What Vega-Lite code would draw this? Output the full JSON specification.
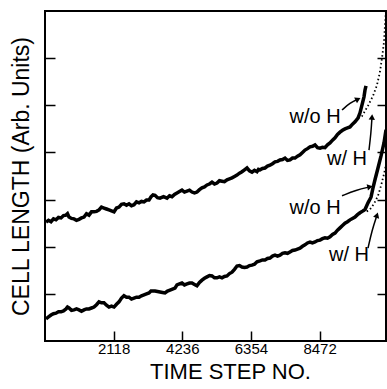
{
  "$schema": "https://vega.github.io/schema/vega-lite/v6.json",
  "width": 341,
  "height": 330,
  "autosize": {"type": "none"},
  "padding": {"left": 45, "top": 11, "right": 1, "bottom": 48},
  "background": "white",
  "config": {
    "view": {"stroke": "black", "strokeWidth": 2},
    "font": "Liberation Sans",
    "axis": {"grid": false, "domain": false, "tickColor": "black", "tickWidth": 1.5, "labelColor": "black", "titleColor": "black", "titleFontWeight": "normal"}
  },
  "datasets": {
    "curves": [
      {"s":"A","t":31,"v":2.52},{"s":"A","t":108,"v":2.56},{"s":"A","t":185,"v":2.53},{"s":"A","t":262,"v":2.59},{"s":"A","t":339,"v":2.57},{"s":"A","t":416,"v":2.62},{"s":"A","t":494,"v":2.61},{"s":"A","t":571,"v":2.66},{"s":"A","t":648,"v":2.67},{"s":"A","t":694,"v":2.70},{"s":"A","t":740,"v":2.63},{"s":"A","t":818,"v":2.60},{"s":"A","t":895,"v":2.59},{"s":"A","t":972,"v":2.56},{"s":"A","t":1049,"v":2.58},{"s":"A","t":1126,"v":2.61},{"s":"A","t":1203,"v":2.63},{"s":"A","t":1280,"v":2.70},{"s":"A","t":1357,"v":2.67},{"s":"A","t":1434,"v":2.74},{"s":"A","t":1512,"v":2.74},{"s":"A","t":1589,"v":2.75},{"s":"A","t":1666,"v":2.78},{"s":"A","t":1743,"v":2.84},{"s":"A","t":1820,"v":2.82},{"s":"A","t":1897,"v":2.80},{"s":"A","t":1974,"v":2.78},{"s":"A","t":2051,"v":2.76},{"s":"A","t":2129,"v":2.74},{"s":"A","t":2206,"v":2.82},{"s":"A","t":2283,"v":2.84},{"s":"A","t":2360,"v":2.90},{"s":"A","t":2437,"v":2.91},{"s":"A","t":2514,"v":2.88},{"s":"A","t":2591,"v":2.91},{"s":"A","t":2668,"v":2.87},{"s":"A","t":2746,"v":2.89},{"s":"A","t":2823,"v":2.95},{"s":"A","t":2900,"v":2.93},{"s":"A","t":2977,"v":2.96},{"s":"A","t":3054,"v":2.95},{"s":"A","t":3131,"v":2.99},{"s":"A","t":3208,"v":2.99},{"s":"A","t":3270,"v":3.06},{"s":"A","t":3332,"v":3.10},{"s":"A","t":3394,"v":3.09},{"s":"A","t":3471,"v":3.04},{"s":"A","t":3548,"v":3.03},{"s":"A","t":3656,"v":3.06},{"s":"A","t":3764,"v":3.03},{"s":"A","t":3841,"v":3.08},{"s":"A","t":3918,"v":3.06},{"s":"A","t":3995,"v":3.11},{"s":"A","t":4072,"v":3.14},{"s":"A","t":4149,"v":3.17},{"s":"A","t":4226,"v":3.20},{"s":"A","t":4303,"v":3.16},{"s":"A","t":4381,"v":3.18},{"s":"A","t":4458,"v":3.20},{"s":"A","t":4535,"v":3.16},{"s":"A","t":4612,"v":3.14},{"s":"A","t":4689,"v":3.16},{"s":"A","t":4766,"v":3.21},{"s":"A","t":4843,"v":3.25},{"s":"A","t":4920,"v":3.27},{"s":"A","t":4998,"v":3.31},{"s":"A","t":5075,"v":3.33},{"s":"A","t":5152,"v":3.37},{"s":"A","t":5229,"v":3.33},{"s":"A","t":5306,"v":3.35},{"s":"A","t":5383,"v":3.40},{"s":"A","t":5460,"v":3.39},{"s":"A","t":5537,"v":3.38},{"s":"A","t":5615,"v":3.42},{"s":"A","t":5692,"v":3.44},{"s":"A","t":5769,"v":3.46},{"s":"A","t":5846,"v":3.49},{"s":"A","t":5923,"v":3.52},{"s":"A","t":6000,"v":3.56},{"s":"A","t":6077,"v":3.59},{"s":"A","t":6155,"v":3.63},{"s":"A","t":6232,"v":3.67},{"s":"A","t":6309,"v":3.61},{"s":"A","t":6386,"v":3.58},{"s":"A","t":6463,"v":3.62},{"s":"A","t":6540,"v":3.59},{"s":"A","t":6587,"v":3.64},{"s":"A","t":6633,"v":3.63},{"s":"A","t":6710,"v":3.66},{"s":"A","t":6787,"v":3.67},{"s":"A","t":6864,"v":3.71},{"s":"A","t":6941,"v":3.73},{"s":"A","t":7018,"v":3.76},{"s":"A","t":7096,"v":3.80},{"s":"A","t":7173,"v":3.81},{"s":"A","t":7250,"v":3.84},{"s":"A","t":7327,"v":3.85},{"s":"A","t":7404,"v":3.88},{"s":"A","t":7481,"v":3.83},{"s":"A","t":7558,"v":3.84},{"s":"A","t":7635,"v":3.88},{"s":"A","t":7713,"v":3.88},{"s":"A","t":7790,"v":3.92},{"s":"A","t":7867,"v":3.95},{"s":"A","t":7944,"v":4.00},{"s":"A","t":8021,"v":4.05},{"s":"A","t":8098,"v":4.08},{"s":"A","t":8175,"v":4.12},{"s":"A","t":8252,"v":4.13},{"s":"A","t":8330,"v":4.16},{"s":"A","t":8407,"v":4.10},{"s":"A","t":8484,"v":4.09},{"s":"A","t":8561,"v":4.11},{"s":"A","t":8638,"v":4.10},{"s":"A","t":8715,"v":4.16},{"s":"A","t":8792,"v":4.20},{"s":"A","t":8870,"v":4.26},{"s":"A","t":8947,"v":4.31},{"s":"A","t":9024,"v":4.38},{"s":"A","t":9101,"v":4.43},{"s":"A","t":9178,"v":4.47},{"s":"A","t":9255,"v":4.50},{"s":"A","t":9332,"v":4.52},{"s":"A","t":9409,"v":4.54},{"s":"A","t":9486,"v":4.60},{"s":"A","t":9564,"v":4.65},{"s":"A","t":9656,"v":4.73},{"s":"A","t":9718,"v":4.84},{"s":"A","t":9780,"v":5.01},{"s":"A","t":9841,"v":5.18},{"s":"A","t":9872,"v":5.32},{"s":"A","t":9903,"v":5.41},
      {"s":"B","t":31,"v":0.47},{"s":"B","t":108,"v":0.51},{"s":"B","t":185,"v":0.55},{"s":"B","t":262,"v":0.58},{"s":"B","t":339,"v":0.59},{"s":"B","t":416,"v":0.62},{"s":"B","t":494,"v":0.62},{"s":"B","t":571,"v":0.64},{"s":"B","t":648,"v":0.68},{"s":"B","t":694,"v":0.72},{"s":"B","t":740,"v":0.70},{"s":"B","t":818,"v":0.65},{"s":"B","t":895,"v":0.66},{"s":"B","t":972,"v":0.68},{"s":"B","t":1049,"v":0.66},{"s":"B","t":1126,"v":0.63},{"s":"B","t":1203,"v":0.66},{"s":"B","t":1280,"v":0.68},{"s":"B","t":1357,"v":0.68},{"s":"B","t":1434,"v":0.70},{"s":"B","t":1512,"v":0.72},{"s":"B","t":1589,"v":0.77},{"s":"B","t":1666,"v":0.83},{"s":"B","t":1743,"v":0.81},{"s":"B","t":1820,"v":0.81},{"s":"B","t":1897,"v":0.76},{"s":"B","t":1974,"v":0.72},{"s":"B","t":2051,"v":0.74},{"s":"B","t":2129,"v":0.72},{"s":"B","t":2206,"v":0.78},{"s":"B","t":2283,"v":0.83},{"s":"B","t":2360,"v":0.91},{"s":"B","t":2437,"v":0.96},{"s":"B","t":2514,"v":0.93},{"s":"B","t":2591,"v":0.93},{"s":"B","t":2668,"v":0.89},{"s":"B","t":2746,"v":0.91},{"s":"B","t":2823,"v":0.93},{"s":"B","t":2900,"v":0.93},{"s":"B","t":2977,"v":0.96},{"s":"B","t":3054,"v":0.98},{"s":"B","t":3131,"v":1.00},{"s":"B","t":3208,"v":1.02},{"s":"B","t":3270,"v":1.06},{"s":"B","t":3332,"v":1.06},{"s":"B","t":3394,"v":1.06},{"s":"B","t":3471,"v":1.05},{"s":"B","t":3548,"v":1.04},{"s":"B","t":3625,"v":1.03},{"s":"B","t":3702,"v":1.02},{"s":"B","t":3779,"v":1.06},{"s":"B","t":3856,"v":1.08},{"s":"B","t":3933,"v":1.10},{"s":"B","t":4010,"v":1.12},{"s":"B","t":4072,"v":1.19},{"s":"B","t":4149,"v":1.21},{"s":"B","t":4226,"v":1.23},{"s":"B","t":4303,"v":1.19},{"s":"B","t":4381,"v":1.21},{"s":"B","t":4458,"v":1.23},{"s":"B","t":4535,"v":1.23},{"s":"B","t":4612,"v":1.20},{"s":"B","t":4689,"v":1.17},{"s":"B","t":4766,"v":1.24},{"s":"B","t":4843,"v":1.29},{"s":"B","t":4920,"v":1.33},{"s":"B","t":4998,"v":1.36},{"s":"B","t":5075,"v":1.39},{"s":"B","t":5152,"v":1.38},{"s":"B","t":5229,"v":1.34},{"s":"B","t":5306,"v":1.34},{"s":"B","t":5383,"v":1.36},{"s":"B","t":5460,"v":1.34},{"s":"B","t":5537,"v":1.37},{"s":"B","t":5615,"v":1.38},{"s":"B","t":5692,"v":1.43},{"s":"B","t":5769,"v":1.46},{"s":"B","t":5846,"v":1.52},{"s":"B","t":5923,"v":1.59},{"s":"B","t":6000,"v":1.60},{"s":"B","t":6077,"v":1.57},{"s":"B","t":6155,"v":1.56},{"s":"B","t":6232,"v":1.57},{"s":"B","t":6309,"v":1.60},{"s":"B","t":6386,"v":1.61},{"s":"B","t":6463,"v":1.63},{"s":"B","t":6540,"v":1.68},{"s":"B","t":6633,"v":1.70},{"s":"B","t":6710,"v":1.72},{"s":"B","t":6787,"v":1.72},{"s":"B","t":6864,"v":1.75},{"s":"B","t":6941,"v":1.76},{"s":"B","t":7018,"v":1.80},{"s":"B","t":7096,"v":1.82},{"s":"B","t":7173,"v":1.80},{"s":"B","t":7250,"v":1.82},{"s":"B","t":7327,"v":1.86},{"s":"B","t":7404,"v":1.87},{"s":"B","t":7481,"v":1.86},{"s":"B","t":7558,"v":1.89},{"s":"B","t":7635,"v":1.92},{"s":"B","t":7713,"v":1.93},{"s":"B","t":7790,"v":1.95},{"s":"B","t":7867,"v":1.97},{"s":"B","t":7944,"v":2.01},{"s":"B","t":8021,"v":2.04},{"s":"B","t":8098,"v":2.08},{"s":"B","t":8175,"v":2.10},{"s":"B","t":8252,"v":2.08},{"s":"B","t":8330,"v":2.10},{"s":"B","t":8407,"v":2.13},{"s":"B","t":8484,"v":2.14},{"s":"B","t":8561,"v":2.17},{"s":"B","t":8638,"v":2.19},{"s":"B","t":8715,"v":2.18},{"s":"B","t":8792,"v":2.21},{"s":"B","t":8870,"v":2.26},{"s":"B","t":8947,"v":2.29},{"s":"B","t":9024,"v":2.35},{"s":"B","t":9101,"v":2.40},{"s":"B","t":9178,"v":2.45},{"s":"B","t":9255,"v":2.50},{"s":"B","t":9332,"v":2.53},{"s":"B","t":9409,"v":2.57},{"s":"B","t":9486,"v":2.60},{"s":"B","t":9564,"v":2.63},{"s":"B","t":9641,"v":2.68},{"s":"B","t":9718,"v":2.72},{"s":"B","t":9810,"v":2.76},{"s":"B","t":9872,"v":2.79},{"s":"B","t":9965,"v":2.93},{"s":"B","t":10057,"v":3.05},{"s":"B","t":10119,"v":3.25},{"s":"B","t":10180,"v":3.42},{"s":"B","t":10273,"v":3.67},{"s":"B","t":10365,"v":3.92},{"s":"B","t":10458,"v":4.20},{"s":"B","t":10520,"v":4.48}
    ],
    "dotted": [
      {"s":"A","t":9656,"v":4.73},{"s":"A","t":9780,"v":4.77},{"s":"A","t":9965,"v":4.99},{"s":"A","t":10119,"v":5.20},{"s":"A","t":10242,"v":5.43},{"s":"A","t":10334,"v":5.71},{"s":"A","t":10396,"v":6.00},{"s":"A","t":10458,"v":6.34},{"s":"A","t":10489,"v":6.70},{"s":"A","t":10520,"v":7.02},
      {"s":"B","t":9810,"v":2.76},{"s":"B","t":9903,"v":2.74},{"s":"B","t":10026,"v":2.79},{"s":"B","t":10150,"v":2.91},{"s":"B","t":10273,"v":3.08},{"s":"B","t":10365,"v":3.29},{"s":"B","t":10458,"v":3.54},{"s":"B","t":10550,"v":3.84}
    ],
    "arrows": [
      {"a":"a1","t":9163,"v":4.90},{"a":"a1","t":9409,"v":5.05},{"a":"a1","t":9656,"v":5.13},
      {"a":"a2","t":9995,"v":4.05},{"a":"a2","t":10057,"v":4.41},{"a":"a2","t":10088,"v":4.75},
      {"a":"a3","t":9163,"v":3.08},{"a":"a3","t":9595,"v":3.20},{"a":"a3","t":10026,"v":3.27},
      {"a":"a4","t":9965,"v":1.97},{"a":"a4","t":10088,"v":2.35},{"a":"a4","t":10242,"v":2.67}
    ],
    "heads": [
      {"t":9656,"v":5.13,"ang":63},{"t":10088,"v":4.75,"ang":4},{"t":10026,"v":3.27,"ang":78},{"t":10242,"v":2.67,"ang":18}
    ],
    "labels": [
      {"lab":"w/o H","t":8330,"v":4.75},{"lab":"w/ H","t":9317,"v":3.86},{"lab":"w/o H","t":8330,"v":2.82},{"lab":"w/ H","t":9378,"v":1.82}
    ]
  },
  "layer": [
    {
      "data": {"name": "curves"},
      "mark": {"type": "line", "color": "black", "strokeWidth": 3.5, "clip": true, "strokeJoin": "miter"},
      "encoding": {
        "x": {"field": "t", "type": "quantitative", "scale": {"domain": [0, 10520], "nice": false, "zero": false},
          "axis": {"values": [2118, 4236, 6354, 8472], "format": "d", "tickSize": -10, "labelPadding": 10, "labelFontSize": 15, "title": "TIME STEP NO.", "titleFontSize": 22, "titlePadding": 5, "titleX": 185}},
        "y": {"field": "v", "type": "quantitative", "scale": {"domain": [0, 7], "nice": false, "zero": false},
          "axis": {"values": [1, 2, 3, 4, 5, 6], "labels": false, "tickSize": -10, "title": "CELL LENGTH (Arb. Units)", "titleFontSize": 23, "titlePadding": 11}},
        "detail": {"field": "s"}
      }
    },
    {
      "data": {"name": "dotted"},
      "mark": {"type": "line", "color": "black", "strokeWidth": 1.8, "strokeDash": [1.5, 2.5], "clip": true},
      "encoding": {
        "x": {"field": "t", "type": "quantitative"},
        "y": {"field": "v", "type": "quantitative", "axis": {"orient": "right", "values": [1, 2, 3, 4, 5, 6], "labels": false, "tickSize": -9, "title": null}},
        "detail": {"field": "s"}
      }
    },
    {
      "data": {"name": "arrows"},
      "mark": {"type": "line", "color": "black", "strokeWidth": 1.5, "interpolate": "basis"},
      "encoding": {
        "x": {"field": "t", "type": "quantitative"},
        "y": {"field": "v", "type": "quantitative", "axis": null},
        "detail": {"field": "a"}
      }
    },
    {
      "data": {"name": "heads"},
      "mark": {"type": "point", "shape": "triangle-up", "filled": true, "color": "black", "size": 40, "opacity": 1},
      "encoding": {
        "x": {"field": "t", "type": "quantitative"},
        "y": {"field": "v", "type": "quantitative", "axis": null},
        "angle": {"field": "ang", "type": "quantitative", "scale": null}
      }
    },
    {
      "data": {"name": "labels"},
      "mark": {"type": "text", "color": "black", "fontSize": 20, "font": "Liberation Sans"},
      "encoding": {
        "x": {"field": "t", "type": "quantitative"},
        "y": {"field": "v", "type": "quantitative", "axis": null},
        "text": {"field": "lab"}
      }
    }
  ],
  "resolve": {"axis": {"y": "independent"}}
}
